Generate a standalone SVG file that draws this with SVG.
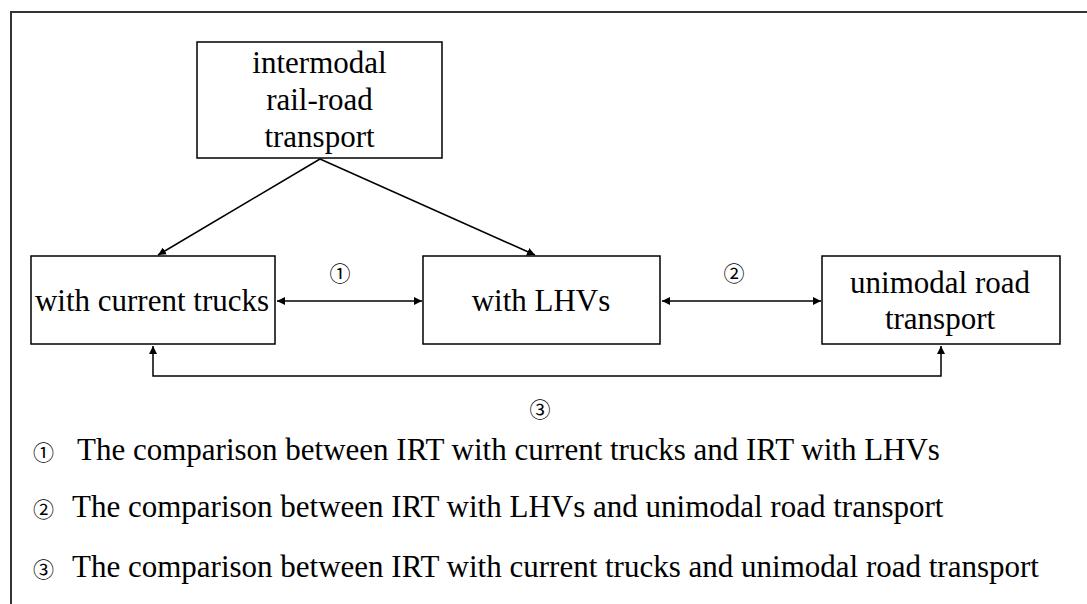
<svg xmlns="http://www.w3.org/2000/svg" width="1087" height="604" viewBox="0 0 1087 604">
  <style>
    .box { fill: #fff; stroke: #000; stroke-width: 1.5; }
    .t { font-family: "Liberation Serif", "Times New Roman", serif; font-size: 31px; fill: #000; }
    .c { text-anchor: middle; }
    .n { font-family: "Noto Sans CJK SC", "DejaVu Sans", sans-serif; font-size: 21px; fill: #000; text-anchor: middle; }
    .ln { fill: none; stroke: #000; stroke-width: 1.5; }
  </style>
  <defs>
    <marker id="ah" viewBox="0 0 10 10" refX="10" refY="5" markerWidth="8" markerHeight="8" markerUnits="userSpaceOnUse" orient="auto-start-reverse">
      <path d="M0,0 L10,5 L0,10 z" fill="#000"/>
    </marker>
  </defs>
  <rect width="1087" height="604" fill="#fff"/>
  <path d="M11,604 V12 H1087" fill="none" stroke="#333" stroke-width="2"/>

  <g id="node-irt">
    <rect class="box" x="197" y="42" width="245" height="116"/>
    <text class="t c" x="319.5" y="73">intermodal</text>
    <text class="t c" x="319.5" y="110">rail-road</text>
    <text class="t c" x="319.5" y="147">transport</text>
  </g>
  <g id="node-current">
    <rect class="box" x="31" y="256" width="244" height="88"/>
    <text class="t c" x="152" y="311">with current trucks</text>
  </g>
  <g id="node-lhv">
    <rect class="box" x="423" y="256" width="237" height="88"/>
    <text class="t c" x="541" y="311">with LHVs</text>
  </g>
  <g id="node-road">
    <rect class="box" x="822" y="256" width="238" height="88"/>
    <text class="t c" x="940" y="293">unimodal road</text>
    <text class="t c" x="940" y="329">transport</text>
  </g>

  <g id="connectors">
    <line class="ln" x1="320" y1="159" x2="158" y2="255" marker-end="url(#ah)"/>
    <line class="ln" x1="320" y1="159" x2="535" y2="255" marker-end="url(#ah)"/>
    <line class="ln" x1="277" y1="301" x2="422" y2="301" marker-start="url(#ah)" marker-end="url(#ah)"/>
    <line class="ln" x1="662" y1="301" x2="821" y2="301" marker-start="url(#ah)" marker-end="url(#ah)"/>
    <path class="ln" d="M153,346 V376 H941 V346" marker-start="url(#ah)" marker-end="url(#ah)"/>
  </g>

  <g id="labels">
    <text class="n" x="340" y="281">①</text>
    <text class="n" x="734" y="281">②</text>
    <text class="n" x="540" y="417">③</text>
  </g>

  <g id="legend">
    <text class="t" x="33" y="460"><tspan class="n" style="text-anchor:start" font-size="27">①</tspan><tspan x="77">The comparison between IRT with current trucks and IRT with LHVs</tspan></text>
    <text class="t" x="33" y="517"><tspan class="n" style="text-anchor:start" font-size="27">②</tspan><tspan x="72">The comparison between IRT with LHVs and unimodal road transport</tspan></text>
    <text class="t" x="33" y="577"><tspan class="n" style="text-anchor:start" font-size="27">③</tspan><tspan x="72">The comparison between IRT with current trucks and unimodal road transport</tspan></text>
  </g>
</svg>
